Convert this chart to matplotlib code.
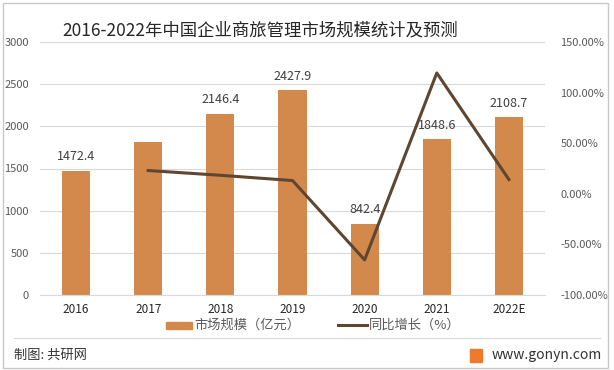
import matplotlib.pyplot as plt
from matplotlib.patches import Rectangle
from matplotlib.lines import Line2D
from matplotlib.ticker import FuncFormatter

plt.rcParams['font.family'] = ['Noto Sans CJK SC', 'DejaVu Sans']

years = ['2016', '2017', '2018', '2019', '2020', '2021', '2022E']
scale = [1472.4, 1814.0, 2146.4, 2427.9, 842.4, 1848.6, 2108.7]
labels = ['1472.4', '', '2146.4', '2427.9', '842.4', '1848.6', '2108.7']
growth_years = ['2017', '2018', '2019', '2020', '2021', '2022E']
growth = [23.0, 18.3, 13.1, -65.3, 119.4, 14.1]

bar_color = '#D4894C'
line_color = '#5E4630'
text_color = '#595959'

fig = plt.figure(figsize=(6.14, 3.70), dpi=100)
ax = fig.add_axes([40 / 614, 1 - 295 / 370, 505 / 614, 253 / 370])
ax2 = ax.twinx()

x = list(range(len(years)))
ax.bar(x, scale, width=0.39, color=bar_color, zorder=2)
for xi, v, lab in zip(x, scale, labels):
    if lab:
        ax.text(xi, v + 90, lab, ha='center', va='bottom', fontsize=9, color='#404040')

gx = [years.index(y) for y in growth_years]
ax2.plot(gx, growth, color=line_color, lw=2.2, zorder=3)

ax.set_xlim(-0.5, len(years) - 0.5)
ax.set_ylim(0, 3000)
ax.set_yticks(range(0, 3001, 500))
ax2.set_ylim(-100, 150)
ax2.set_yticks(range(-100, 151, 50))
ax2.yaxis.set_major_formatter(FuncFormatter(lambda v, p: f'{v:.2f}%'))

ax.set_xticks(x)
ax.set_xticklabels(years)
ax.yaxis.grid(True, color='#D9D9D9', lw=0.8)
ax.set_axisbelow(True)
for a in (ax, ax2):
    for s in a.spines.values():
        s.set_visible(False)
    a.tick_params(length=0, labelsize=8, colors=text_color)
ax.spines['bottom'].set_visible(True)
ax.spines['bottom'].set_color('#D9D9D9')
ax.tick_params(axis='x', pad=6, colors='#262626', labelsize=8.5)
ax.tick_params(axis='y', pad=8)
ax2.tick_params(axis='y', pad=11)

fig.text(260 / 614, 1 - 30 / 370, '2016-2022年中国企业商旅管理市场规模统计及预测',
         ha='center', va='center', fontsize=12.5, color='#262626')

# legend
fig.patches.append(Rectangle((166 / 614, 1 - 329 / 370), 26 / 614, 7 / 370,
                             transform=fig.transFigure, color=bar_color))
fig.text(194 / 614, 1 - 325 / 370, '市场规模（亿元）', ha='left', va='center',
         fontsize=9.5, color=text_color)
fig.lines.append(Line2D([338 / 614, 367 / 614], [1 - 325 / 370] * 2,
                        transform=fig.transFigure, color=line_color, lw=2.2))
fig.text(369 / 614, 1 - 325 / 370, '同比增长（%）', ha='left', va='center',
         fontsize=9.5, color=text_color)

# frame and footer
fig.patches.append(Rectangle((3 / 614, 2 / 370), 605 / 614, 365 / 370,
                             transform=fig.transFigure, fill=False,
                             edgecolor='#C8C8C8', lw=1))
fig.lines.append(Line2D([14 / 614, 600 / 614], [1 - 338 / 370] * 2,
                        transform=fig.transFigure, color='#D9D9D9', lw=0.8))
fig.text(14 / 614, 1 - 355 / 370, '制图: 共研网', ha='left', va='center',
         fontsize=9.5, color='#333333')
fig.text(602 / 614, 1 - 355 / 370, 'www.gonyn.com', ha='right', va='center',
         fontsize=10, color='#333333')
fig.patches.append(Rectangle((470 / 614, 1 - 362 / 370), 12 / 614, 13 / 370,
                             transform=fig.transFigure, color='#F07A2B'))

fig.savefig('out.png', dpi=100)
